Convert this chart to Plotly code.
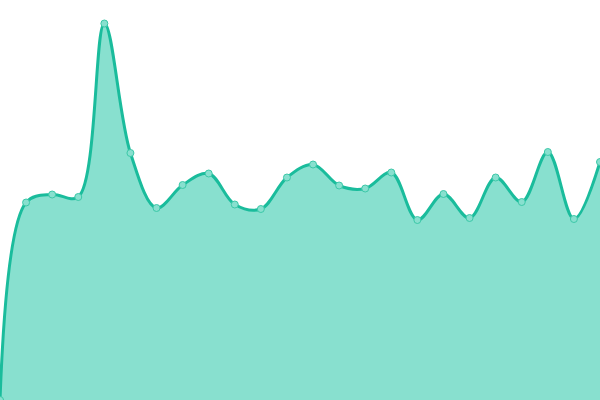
import plotly.graph_objects as go

x_index = list(range(24))
values = [0, 197.5, 205.5, 203, 376.5, 247, 192, 215, 226.5, 195.5, 191, 222.5,
          235.5, 214.5, 211.5, 227.5, 180, 206, 182, 222.5, 198, 248, 181, 238]

fig = go.Figure()
fig.add_trace(go.Scatter(
    x=x_index, y=values, mode="lines+markers",
    line=dict(color="#1abc9c", width=3, shape="spline", smoothing=1),
    fill="tozeroy", fillcolor="#88e0cf",
    marker=dict(size=7, color="#88e0cf", line=dict(color="#3cc8a8", width=1)),
    hoverinfo="skip",
))
fig.update_layout(
    width=600, height=400,
    margin=dict(l=0, r=0, t=0, b=0),
    paper_bgcolor="white", plot_bgcolor="white",
    showlegend=False,
    xaxis=dict(range=[0, 23], visible=False, fixedrange=True),
    yaxis=dict(range=[0, 400], visible=False, fixedrange=True),
)
fig.write_html(
    "out.html",
    config={"displayModeBar": False},
    post_script="document.body.style.margin='0';document.body.style.padding='0';document.body.style.overflow='hidden';",
)
